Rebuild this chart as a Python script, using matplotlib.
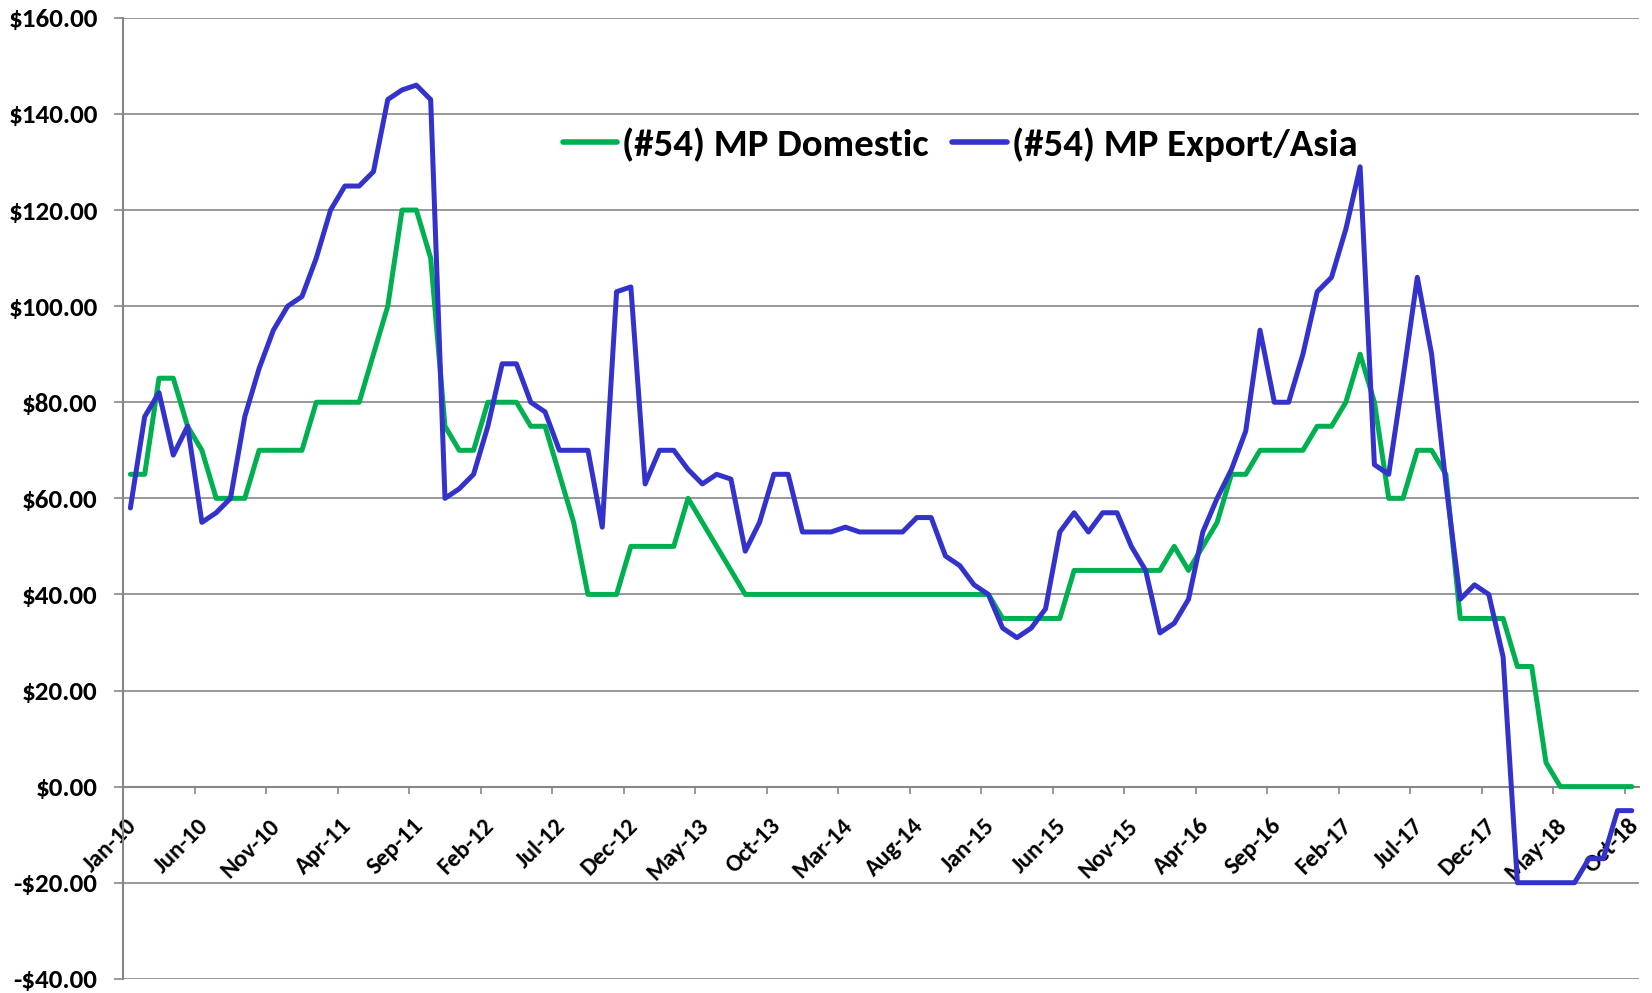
import matplotlib
matplotlib.use("Agg")
import matplotlib.pyplot as plt
import matplotlib.transforms as mtransforms
import numpy as np
import pandas as pd

plt.rcParams['font.family'] = ['Carlito', 'Open Sans', 'DejaVu Sans']

months = pd.date_range("2010-01-01", periods=106, freq="MS").strftime("%b-%y").tolist()

domestic = [65, 65, 85, 85, 75, 70, 60, 60, 60, 70,
            70, 70, 70, 80, 80, 80, 80, 90, 100, 120,
            120, 110, 75, 70, 70, 80, 80, 80, 75, 75,
            65, 55, 40, 40, 40, 50, 50, 50, 50, 60,
            55, 50, 45, 40, 40, 40, 40, 40, 40, 40,
            40, 40, 40, 40, 40, 40, 40, 40, 40, 40,
            40, 35, 35, 35, 35, 35, 45, 45, 45, 45,
            45, 45, 45, 50, 45, 50, 55, 65, 65, 70,
            70, 70, 70, 75, 75, 80, 90, 80, 60, 60,
            70, 70, 65, 35, 35, 35, 35, 25, 25, 5,
            0, 0, 0, 0, 0, 0]

export_asia = [58, 77, 82, 69, 75, 55, 57, 60, 77, 87,
               95, 100, 102, 110, 120, 125, 125, 128, 143, 145,
               146, 143, 60, 62, 65, 75, 88, 88, 80, 78,
               70, 70, 70, 54, 103, 104, 63, 70, 70, 66,
               63, 65, 64, 49, 55, 65, 65, 53, 53, 53,
               54, 53, 53, 53, 53, 56, 56, 48, 46, 42,
               40, 33, 31, 33, 37, 53, 57, 53, 57, 57,
               50, 45, 32, 34, 39, 53, 60, 66, 74, 95,
               80, 80, 90, 103, 106, 116, 129, 67, 65, 85,
               106, 90, 63, 39, 42, 40, 27, -20, -20, -20,
               -20, -20, -15, -15, -5, -5]

series_names = ["(#54) MP Domestic", "(#54) MP Export/Asia"]
series_colors = ["#00B050", "#3333CC"]

y_ticks = list(range(-40, 161, 20))
y_labels = [f"-${abs(v):.2f}" if v < 0 else f"${v:.2f}" for v in y_ticks]

fig = plt.figure(figsize=(16.52, 9.93), dpi=100)
ax = fig.add_axes([0.0746, 0.0143, 0.9175, 0.9677])

x = np.arange(len(months))
grid_c = "#868686"

# spines first (set_position resets ticks)
for s in ['top', 'right']:
    ax.spines[s].set_visible(False)
ax.spines['bottom'].set_position(('data', 0))
ax.spines['bottom'].set_color(grid_c)
ax.spines['bottom'].set_linewidth(1.5)
ax.spines['left'].set_color(grid_c)
ax.spines['left'].set_linewidth(1.5)

ax.plot(x, domestic, color=series_colors[0], lw=3.6, label=series_names[0],
        solid_joinstyle='round', solid_capstyle='round', zorder=3)
ax.plot(x, export_asia, color=series_colors[1], lw=3.6, label=series_names[1],
        solid_joinstyle='round', solid_capstyle='round', zorder=4)

ax.set_xlim(-0.5, len(months) - 0.5)
ax.set_ylim(-40, 160)

ax.set_yticks(y_ticks)
ax.set_yticklabels(y_labels, fontsize=19.5, fontweight='bold')
ax.yaxis.grid(True, color=grid_c, lw=1.2)
ax.set_axisbelow(True)
ax.tick_params(axis='y', length=6.5, width=1.2, color=grid_c, pad=12)

label_idx = list(range(0, len(months), 5))
ax.set_xticks(label_idx)
ax.set_xticks(np.arange(-0.5, len(months) - 0.5, 5), minor=True)
ax.set_xticklabels([months[i] for i in label_idx], rotation=45, ha='right',
                   va='center', rotation_mode='anchor', fontsize=17.5, fontweight='bold')
ax.tick_params(axis='x', which='major', length=0, pad=15)
ax.tick_params(axis='x', which='minor', length=5, width=1.2, color=grid_c, direction='out')
shift = mtransforms.ScaledTranslation(0.03, -0.15, fig.dpi_scale_trans)
for lab in ax.get_xticklabels():
    lab.set_transform(lab.get_transform() + shift)

leg = ax.legend(loc='center', bbox_to_anchor=(0.552, 0.868), ncol=2, frameon=False,
                prop={'weight': 'bold', 'size': 28}, handlelength=1.4,
                handletextpad=0.13, columnspacing=0.6)
for h in leg.get_lines():
    h.set_linewidth(4)

fig.savefig("out.png", dpi=100)
